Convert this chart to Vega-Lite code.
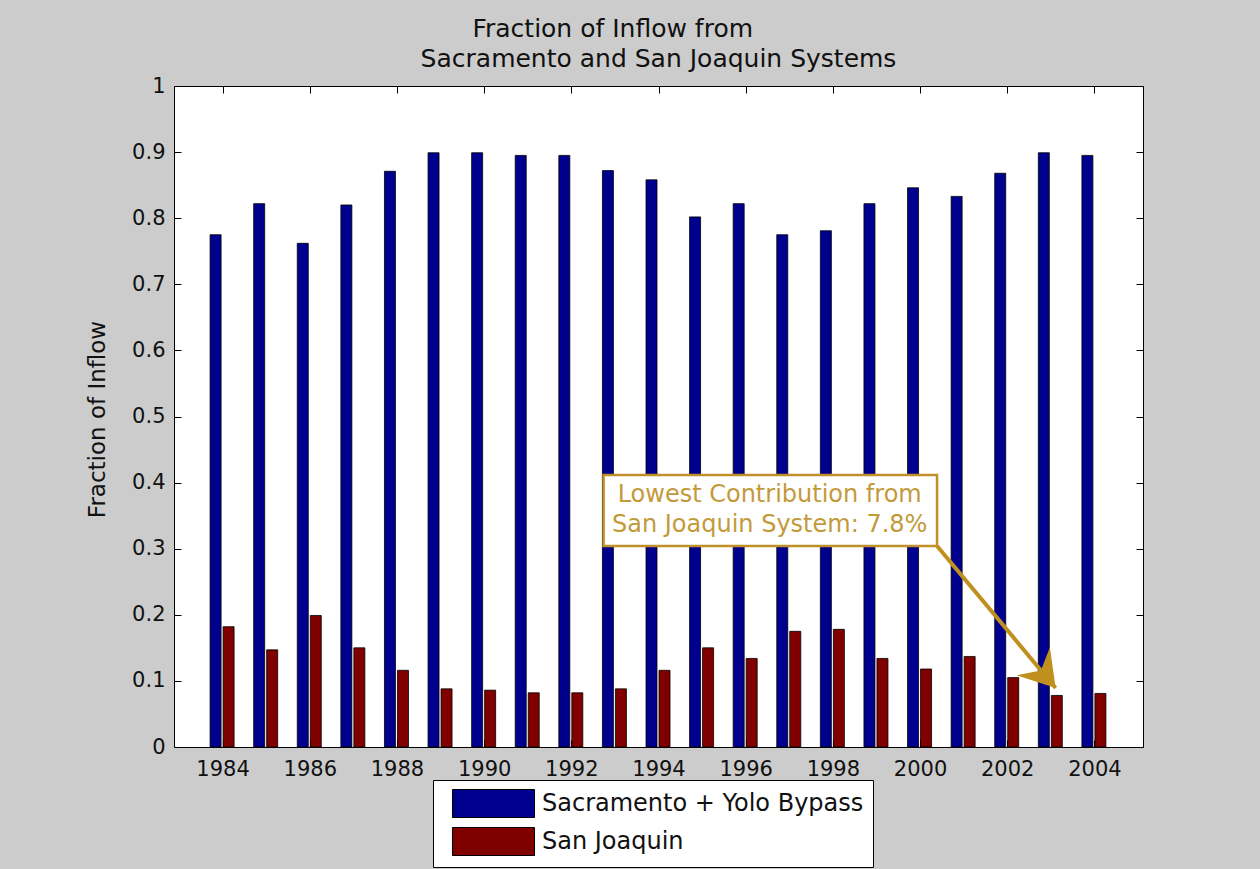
{
  "$schema": "https://vega.github.io/schema/vega-lite/v6.json",
  "width": 969,
  "height": 661,
  "autosize": "none",
  "padding": {"left": 174, "top": 86, "right": 117, "bottom": 122},
  "background": "#cccccc",
  "config": {
    "view": {"stroke": "#000000", "strokeWidth": 1, "fill": "#ffffff"},
    "font": "DejaVu Sans"
  },
  "title": {
    "text": "Fraction of Inflow from\u2800\u2800\u2800\u2800\u2800",
    "subtitle": "Sacramento and San Joaquin Systems",
    "fontSize": 25,
    "fontWeight": "normal",
    "font": "DejaVu Sans",
    "color": "#111111",
    "subtitleFont": "DejaVu Sans",
    "subtitleFontSize": 25,
    "subtitleColor": "#111111",
    "subtitlePadding": 5,
    "anchor": "middle",
    "offset": 3
  },
  "datasets": {
    "inflow": [
      {"year": 1984, "series": "Sacramento + Yolo Bypass", "fraction": 0.775},
      {"year": 1985, "series": "Sacramento + Yolo Bypass", "fraction": 0.822},
      {"year": 1986, "series": "Sacramento + Yolo Bypass", "fraction": 0.762},
      {"year": 1987, "series": "Sacramento + Yolo Bypass", "fraction": 0.820},
      {"year": 1988, "series": "Sacramento + Yolo Bypass", "fraction": 0.871},
      {"year": 1989, "series": "Sacramento + Yolo Bypass", "fraction": 0.899},
      {"year": 1990, "series": "Sacramento + Yolo Bypass", "fraction": 0.899},
      {"year": 1991, "series": "Sacramento + Yolo Bypass", "fraction": 0.895},
      {"year": 1992, "series": "Sacramento + Yolo Bypass", "fraction": 0.895},
      {"year": 1993, "series": "Sacramento + Yolo Bypass", "fraction": 0.872},
      {"year": 1994, "series": "Sacramento + Yolo Bypass", "fraction": 0.858},
      {"year": 1995, "series": "Sacramento + Yolo Bypass", "fraction": 0.802},
      {"year": 1996, "series": "Sacramento + Yolo Bypass", "fraction": 0.822},
      {"year": 1997, "series": "Sacramento + Yolo Bypass", "fraction": 0.775},
      {"year": 1998, "series": "Sacramento + Yolo Bypass", "fraction": 0.781},
      {"year": 1999, "series": "Sacramento + Yolo Bypass", "fraction": 0.822},
      {"year": 2000, "series": "Sacramento + Yolo Bypass", "fraction": 0.846},
      {"year": 2001, "series": "Sacramento + Yolo Bypass", "fraction": 0.833},
      {"year": 2002, "series": "Sacramento + Yolo Bypass", "fraction": 0.868},
      {"year": 2003, "series": "Sacramento + Yolo Bypass", "fraction": 0.899},
      {"year": 2004, "series": "Sacramento + Yolo Bypass", "fraction": 0.895},
      {"year": 1984, "series": "San Joaquin", "fraction": 0.182},
      {"year": 1985, "series": "San Joaquin", "fraction": 0.147},
      {"year": 1986, "series": "San Joaquin", "fraction": 0.199},
      {"year": 1987, "series": "San Joaquin", "fraction": 0.150},
      {"year": 1988, "series": "San Joaquin", "fraction": 0.116},
      {"year": 1989, "series": "San Joaquin", "fraction": 0.088},
      {"year": 1990, "series": "San Joaquin", "fraction": 0.086},
      {"year": 1991, "series": "San Joaquin", "fraction": 0.082},
      {"year": 1992, "series": "San Joaquin", "fraction": 0.082},
      {"year": 1993, "series": "San Joaquin", "fraction": 0.088},
      {"year": 1994, "series": "San Joaquin", "fraction": 0.116},
      {"year": 1995, "series": "San Joaquin", "fraction": 0.150},
      {"year": 1996, "series": "San Joaquin", "fraction": 0.134},
      {"year": 1997, "series": "San Joaquin", "fraction": 0.175},
      {"year": 1998, "series": "San Joaquin", "fraction": 0.178},
      {"year": 1999, "series": "San Joaquin", "fraction": 0.134},
      {"year": 2000, "series": "San Joaquin", "fraction": 0.118},
      {"year": 2001, "series": "San Joaquin", "fraction": 0.137},
      {"year": 2002, "series": "San Joaquin", "fraction": 0.105},
      {"year": 2003, "series": "San Joaquin", "fraction": 0.078},
      {"year": 2004, "series": "San Joaquin", "fraction": 0.081}
    ],
    "box": [{"x1": 1992.74, "x2": 2000.39, "y1": 0.304, "y2": 0.4115}],
    "note": [
      {"x": 1996.55, "y": 0.381, "label": "Lowest Contribution from"},
      {"x": 1996.55, "y": 0.336, "label": "San Joaquin System: 7.8%"}
    ],
    "arrow": [{"x1": 2000.39, "y1": 0.304, "x2": 2003.11, "y2": 0.0893}]
  },
  "resolve": {"axis": {"x": "independent", "y": "independent"}},
  "layer": [
    {
      "data": {"name": "inflow"},
      "transform": [{"filter": "datum.series === 'Sacramento + Yolo Bypass'"}],
      "mark": {"type": "bar", "width": 11, "xOffset": -7, "stroke": "#000000", "strokeWidth": 0.8},
      "encoding": {
        "x": {
          "field": "year", "type": "quantitative",
          "scale": {"domain": [1983, 2005], "nice": false, "zero": false},
          "axis": {
            "orient": "bottom", "title": null, "values": [1984, 1986, 1988, 1990, 1992, 1994, 1996, 1998, 2000, 2002, 2004],
            "format": "d", "grid": false, "ticks": false, "domain": false,
            "labelFont": "DejaVu Sans", "labelFontSize": 21, "labelColor": "#111111", "labelPadding": 11,
            "labelFlush": false, "labelOverlap": false
          }
        },
        "y": {
          "field": "fraction", "type": "quantitative",
          "scale": {"domain": [0, 1], "nice": false},
          "axis": {
            "orient": "left", "title": "Fraction of Inflow", "values": [0, 0.1, 0.2, 0.3, 0.4, 0.5, 0.6, 0.7, 0.8, 0.9, 1],
            "format": "~g", "grid": false, "ticks": false, "domain": false,
            "labelFont": "DejaVu Sans", "labelFontSize": 21, "labelColor": "#111111", "labelPadding": 9,
            "labelFlush": false, "labelOverlap": false,
            "titleFont": "DejaVu Sans", "titleFontSize": 23, "titleFontWeight": "normal", "titleColor": "#111111",
            "titleX": -77, "titleY": 333, "titleAngle": -90, "titleAlign": "center", "titleBaseline": "middle"
          }
        },
        "color": {
          "field": "series", "type": "nominal",
          "scale": {"domain": ["Sacramento + Yolo Bypass", "San Joaquin"], "range": ["#00008f", "#800000"]},
          "legend": {
            "title": null, "orient": "none", "legendX": 259, "legendY": 694,
            "symbolType": "M-2.93,-1H2.93V1H-2.93Z", "symbolSize": 784,
            "symbolStrokeColor": "#000000", "symbolStrokeWidth": 1, "symbolOpacity": 1,
            "labelFont": "DejaVu Sans", "labelFontSize": 24, "labelColor": "#111111", "labelLimit": 500,
            "padding": 9, "rowPadding": 5, "symbolOffset": 37, "labelOffset": 34,
            "fillColor": "#ffffff", "strokeColor": "#000000"
          }
        }
      }
    },
    {
      "data": {"name": "inflow"},
      "transform": [{"filter": "datum.series === 'San Joaquin'"}],
      "mark": {"type": "bar", "width": 11, "xOffset": 6, "stroke": "#000000", "strokeWidth": 0.8},
      "encoding": {
        "x": {
          "field": "year", "type": "quantitative",
          "axis": {
            "orient": "top", "title": null, "values": [1984, 1986, 1988, 1990, 1992, 1994, 1996, 1998, 2000, 2002, 2004],
            "labels": false, "grid": false, "domain": false, "tickSize": -7, "tickColor": "#000000"
          }
        },
        "y": {
          "field": "fraction", "type": "quantitative",
          "axis": {
            "orient": "right", "title": null, "values": [0, 0.1, 0.2, 0.3, 0.4, 0.5, 0.6, 0.7, 0.8, 0.9, 1],
            "labels": false, "grid": false, "domain": false, "tickSize": -7, "tickColor": "#000000"
          }
        },
        "color": {"field": "series", "type": "nominal"}
      }
    },
    {
      "data": {"name": "box"},
      "mark": {"type": "rect", "fill": "#ffffff", "stroke": "#c0902a", "strokeWidth": 2.5},
      "encoding": {
        "x": {
          "field": "x1", "type": "quantitative",
          "axis": {
            "orient": "bottom", "title": null, "values": [1984, 1986, 1988, 1990, 1992, 1994, 1996, 1998, 2000, 2002, 2004],
            "labels": false, "grid": false, "domain": false, "tickSize": -7, "tickColor": "#000000"
          }
        },
        "x2": {"field": "x2"},
        "y": {
          "field": "y1", "type": "quantitative",
          "axis": {
            "orient": "left", "title": null, "values": [0, 0.1, 0.2, 0.3, 0.4, 0.5, 0.6, 0.7, 0.8, 0.9, 1],
            "labels": false, "grid": false, "domain": false, "tickSize": -7, "tickColor": "#000000"
          }
        },
        "y2": {"field": "y2"}
      }
    },
    {
      "data": {"name": "note"},
      "mark": {"type": "text", "font": "DejaVu Sans", "fontSize": 24, "color": "#c39a3a", "align": "center", "baseline": "middle"},
      "encoding": {
        "x": {"field": "x", "type": "quantitative", "axis": null},
        "y": {"field": "y", "type": "quantitative", "axis": null},
        "text": {"field": "label"}
      }
    },
    {
      "data": {"name": "arrow"},
      "mark": {"type": "rule", "color": "#c0901e", "strokeWidth": 4},
      "encoding": {
        "x": {"field": "x1", "type": "quantitative", "axis": null},
        "y": {"field": "y1", "type": "quantitative", "axis": null},
        "x2": {"field": "x2"},
        "y2": {"field": "y2"}
      }
    },
    {
      "data": {"name": "arrow"},
      "mark": {"type": "point", "shape": "M0,0L-1,-1.6L0,-1.05L1,-1.6Z", "size": 1900, "filled": true, "color": "#c0901e", "opacity": 1, "angle": 320},
      "encoding": {
        "x": {"field": "x2", "type": "quantitative", "axis": null},
        "y": {"field": "y2", "type": "quantitative", "axis": null}
      }
    }
  ]
}
